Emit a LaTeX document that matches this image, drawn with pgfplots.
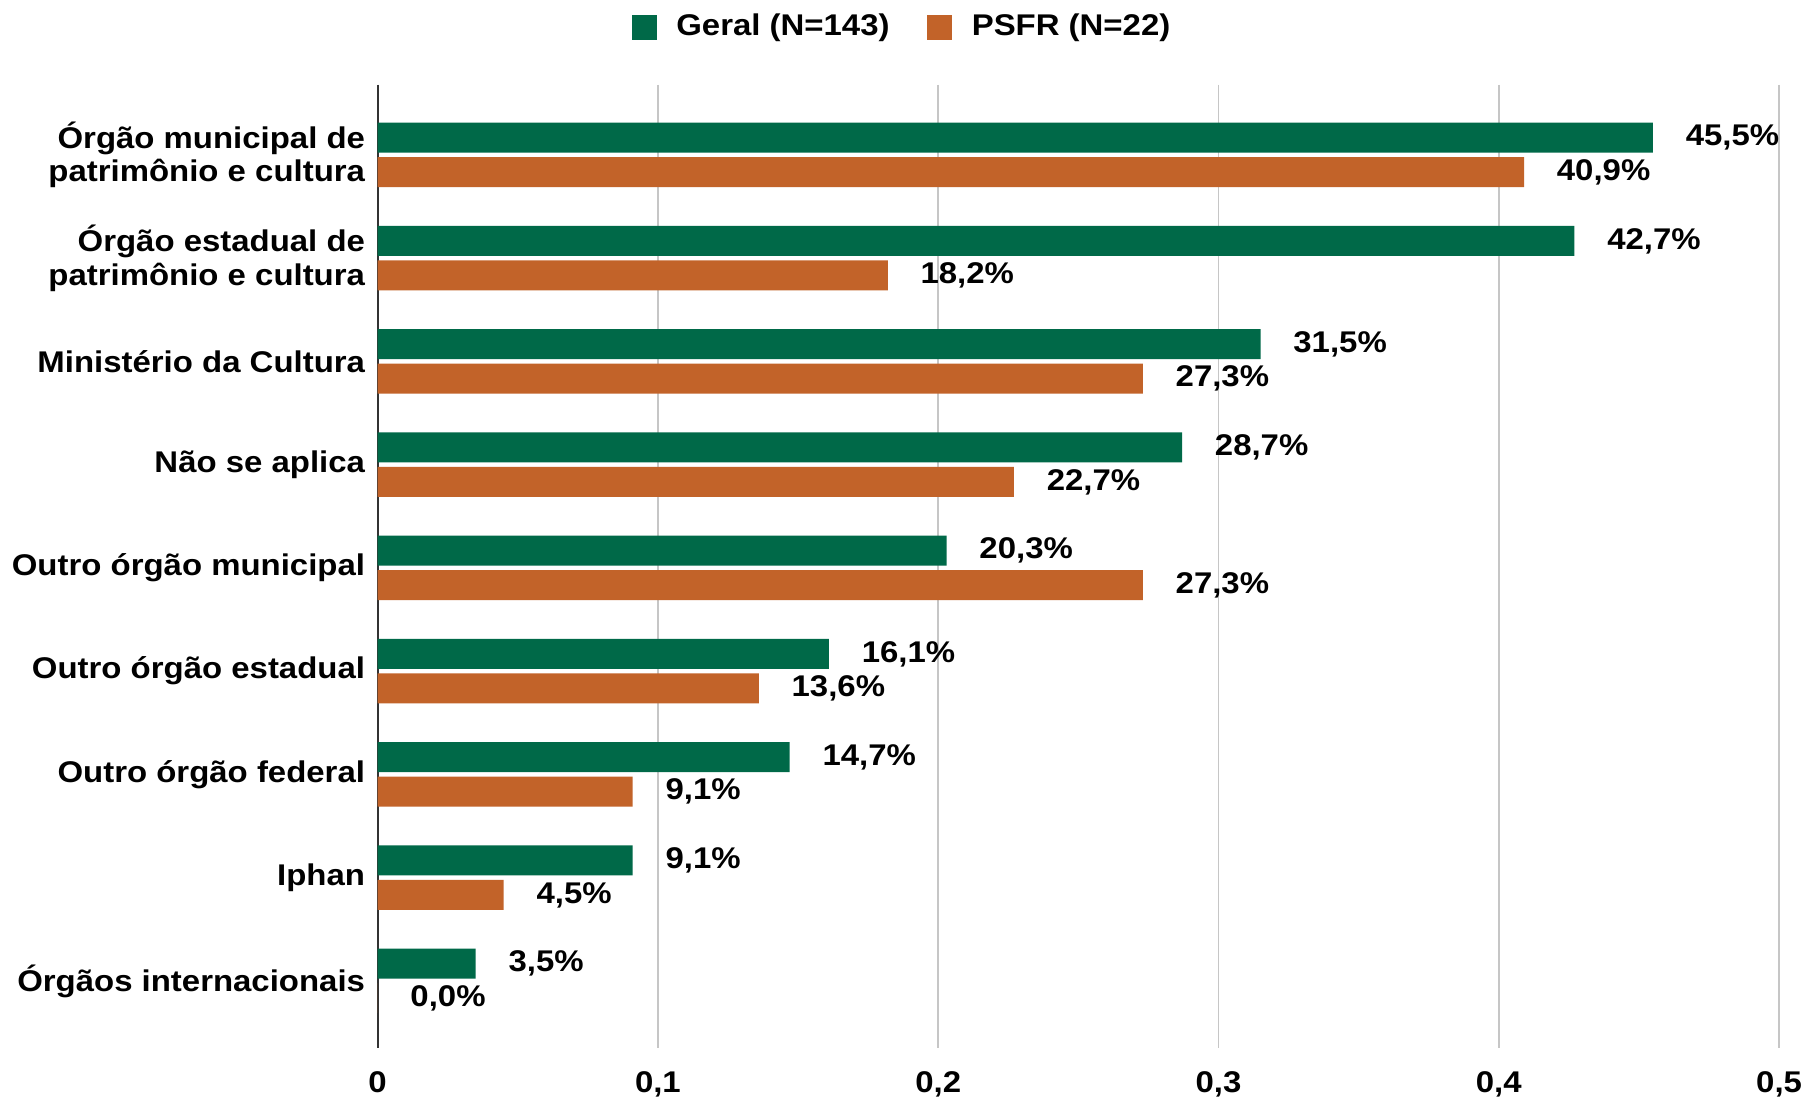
\documentclass[border=0pt]{standalone}
\usepackage{fontspec}
\setmainfont[FakeStretch=1.1]{Liberation Sans}
\usepackage{pgfplots}
\pgfplotsset{compat=1.18}

\definecolor{geral}{RGB}{0,105,72}
\definecolor{psfr}{RGB}{194,99,41}

\begin{document}
\begin{tikzpicture}
\begin{axis}[
    xbar, bar width=0.29,
    scale only axis, width=13.82cm, height=9.5cm,
    y dir=reverse,
    xmin=0, xmax=0.5, ymin=-0.68, ymax=8.65,
    xtick={0,0.1,...,0.5},
    ytick={0,...,8},
    yticklabels={{Órgão municipal de\\patrimônio e cultura},
                 {Órgão estadual de\\patrimônio e cultura},
                 Ministério da Cultura, Não se aplica,
                 Outro órgão municipal, Outro órgão estadual,
                 Outro órgão federal, Iphan, Órgãos internacionais},
    yticklabel style={align=right, font=\fontsize{8.4}{9.4}\selectfont\bfseries},
    xticklabel style={font=\fontsize{8.4}{9.4}\selectfont\bfseries, inner sep=0pt, yshift=-0.22cm},
    /pgf/number format/use comma,
    /pgf/number format/assume math mode=true,
    major tick length=0pt,
    axis lines*=left,
    x axis line style={draw=none},
    y axis line style={draw=black!80, line width=0.6pt},
    xmajorgrids, grid style={gray!45, line width=0.5pt},
    clip=false,
    point meta={x*100},
    nodes near coords={\pgfmathprintnumber[fixed,fixed zerofill,precision=1,use comma]{\pgfplotspointmeta}\%},
    nodes near coords align={horizontal},
    every node near coord/.append style={xshift=0.2cm, font=\fontsize{8.4}{9.4}\selectfont\bfseries},
    legend columns=2,
    legend style={at={(0.376,1.059)}, anchor=center, draw=none, inner sep=2pt,
        font=\fontsize{8.4}{9.4}\selectfont\bfseries,
        /tikz/every odd column/.append style={column sep=0.12cm},
        /tikz/every even column/.append style={column sep=0.3cm}},
    legend image code/.code={\fill[#1] (0cm,-0.12cm) rectangle (0.25cm,0.13cm);},
]
\addplot[fill=geral, draw=none, bar shift=-0.167] coordinates {
    (0.455,0) (0.427,1) (0.315,2) (0.287,3) (0.203,4)
    (0.161,5) (0.147,6) (0.091,7) (0.035,8)
};
\addplot[fill=psfr, draw=none, bar shift=0.167] coordinates {
    (0.409,0) (0.182,1) (0.273,2) (0.227,3) (0.273,4)
    (0.136,5) (0.091,6) (0.045,7) (0.0,8)
};
\legend{Geral (N=143), PSFR (N=22)}
\end{axis}
\end{tikzpicture}
\end{document}
